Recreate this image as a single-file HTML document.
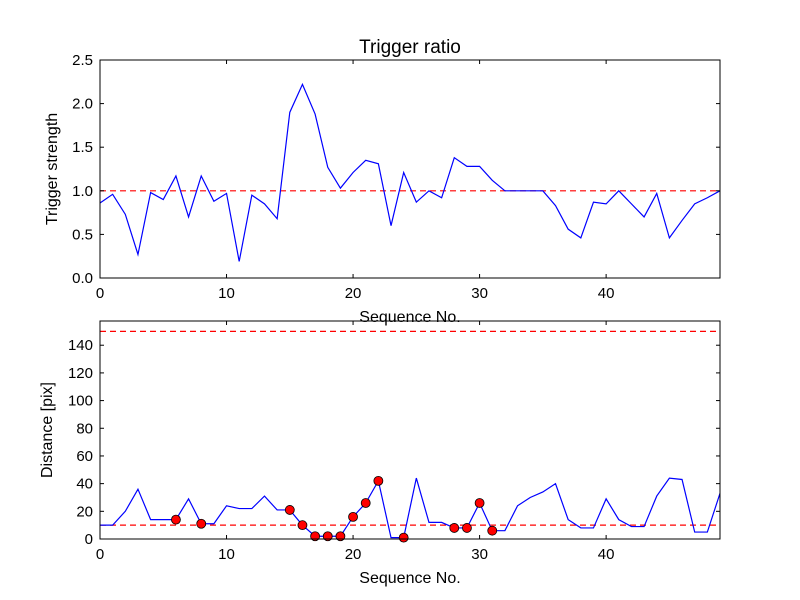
<!DOCTYPE html>
<html><head><meta charset="utf-8"><style>
body{margin:0;background:#fff}
svg{display:block;font-family:"Liberation Sans","DejaVu Sans",sans-serif}
</style></head><body>
<svg id="c" width="800" height="600" viewBox="0 0 800 600"></svg>
<script>
const seq = Array.from({length:50},(_, i)=>i);
const strength = [0.86,0.96,0.73,0.27,0.98,0.9,1.17,0.7,1.17,0.88,0.97,0.19,0.95,0.85,0.68,1.9,2.22,1.88,1.27,1.03,1.21,1.35,1.31,0.6,1.21,0.87,1.0,0.92,1.38,1.28,1.28,1.12,1.0,1.0,1.0,1.0,0.83,0.56,0.46,0.87,0.85,1.0,0.85,0.7,0.97,0.46,0.66,0.85,0.92,1.0];
const distance = [10,10,20,36,14,14,14,29,11,11,24,22,22,31,21,21,10,2,2,2,16,26,42,1,1,44,12,12,8,8,26,6,6,24,30,34,40,14,8,8,29,14,9,9,31,44,43,5,5,33];
const flagged = [6,8,15,16,17,18,19,20,21,22,24,28,29,30,31];
const topTicks = [0,0.5,1.0,1.5,2.0,2.5];
const botTicks = [0,20,40,60,80,100,120,140];
const xTicks = [0,10,20,30,40];
const topThresh = [1.0];
const botThresh = [10,150];

const NS="http://www.w3.org/2000/svg";
const svg=document.getElementById('c');
function mk(t,a,p){const e=document.createElementNS(NS,t);for(const k in a)e.setAttribute(k,a[k]);(p||svg).appendChild(e);return e;}

function panel(o){
  const g=mk('g',{});
  
  
  const X=v=>100+(v-0)/49*620;
  const Y=v=>o.bottom-(v-o.ymin)/(o.ymax-o.ymin)*(o.bottom-o.top);
  // thresholds
  o.thresh.forEach(t=>{const l=mk('line',{x1:100,x2:720,y1:Y(t),y2:Y(t),stroke:'#f00','stroke-width':1.2,'stroke-dasharray':'6,4'},g);
    
    });
  const pl=mk('polyline',{points:o.data.map((v,i)=>X(seq[i])+','+Y(v)).join(' '),fill:'none',stroke:'#00f','stroke-width':1.2},g);
  
  
  (o.markers||[]).forEach(i=>{const c=mk('circle',{cx:X(i),cy:Y(o.data[i]),r:4.5,fill:'#f00',stroke:'#000','stroke-width':0.8},g);
    
    });
  const fr=mk('rect',{x:100,y:o.top,width:620,height:o.bottom-o.top,fill:'none',stroke:'#000','stroke-width':1},g);
  
  
  o.yt.forEach(t=>{const y=Y(t);
    mk('line',{x1:100,x2:104,y1:y,y2:y,stroke:'#000'},g);mk('line',{x1:716,x2:720,y1:y,y2:y,stroke:'#000'},g);
    const tx=mk('text',{x:93,y:y+5,'text-anchor':'end','font-size':15},g);tx.textContent=o.fmt(t);
    
    });
  xTicks.forEach(t=>{const x=X(t);
    mk('line',{x1:x,x2:x,y1:o.bottom,y2:o.bottom-4,stroke:'#000'},g);mk('line',{x1:x,x2:x,y1:o.top,y2:o.top+4,stroke:'#000'},g);
    const tx=mk('text',{x:x,y:o.bottom+20,'text-anchor':'middle','font-size':15},g);tx.textContent=t;
    
    });
  const xl=mk('text',{x:410,y:o.bottom+44,'text-anchor':'middle','font-size':16},g);xl.textContent='Sequence No.';
  
  
  const cy=(o.top+o.bottom)/2;
  const yl=mk('text',{x:o.ylx,y:cy,'text-anchor':'middle','font-size':16,transform:`rotate(-90 ${o.ylx} ${cy})`},g);yl.textContent=o.ylabel;
  
  
}
panel({name:'trigger-strength-panel',data:strength,ymin:0,ymax:2.5,top:60,bottom:278,yt:topTicks,fmt:t=>t.toFixed(1),thresh:topThresh,ylabel:'Trigger strength',ylx:57});
panel({name:'distance-panel',data:distance,ymin:0,ymax:157.5,top:321,bottom:539,yt:botTicks,fmt:t=>String(t),thresh:botThresh,markers:flagged,ylabel:'Distance [pix]',ylx:52});
const ti=mk('text',{x:410,y:53,'text-anchor':'middle','font-size':19});ti.textContent='Trigger ratio';


</script>
</body></html>
